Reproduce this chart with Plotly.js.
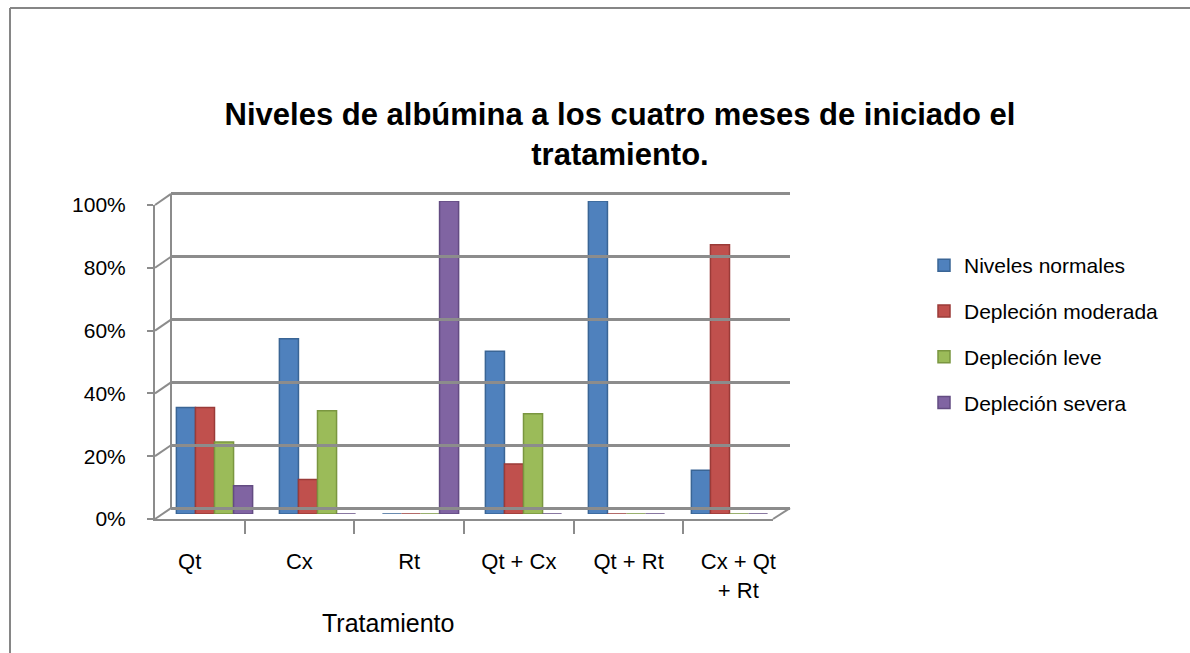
<!DOCTYPE html>
<html>
<head>
<meta charset="utf-8">
<script src="https://cdn.plot.ly/plotly-3.0.1.min.js"></script>
<style>
  html, body { margin: 0; padding: 0; background: #fff; }
  #chart { width: 1190px; height: 653px; }
</style>
</head>
<body>
<div id="chart"></div>
<script>
// ---- data ----
const categories = ["Qt", "Cx", "Rt", "Qt + Cx", "Qt + Rt", "Cx + Qt + Rt"];
const categoryLabels = ["Qt", "Cx", "Rt", "Qt + Cx", "Qt + Rt", "Cx + Qt<br>+ Rt"];
const seriesNames = ["Niveles normales", "Depleción moderada", "Depleción leve", "Depleción severa"];
const nivelesNormales   = [0.34, 0.56, 0.00, 0.52, 1.00, 0.14];
const deplecionModerada = [0.34, 0.11, 0.00, 0.16, 0.00, 0.86];
const deplecionLeve     = [0.23, 0.33, 0.00, 0.32, 0.00, 0.00];
const deplecionSevera   = [0.09, 0.00, 1.00, 0.00, 0.00, 0.00];
const yTickVals = [0, 0.2, 0.4, 0.6, 0.8, 1.0];
const yTickText = ["0%", "20%", "40%", "60%", "80%", "100%"];

// ---- geometry helpers (pixel -> paper) ----
const PL = 150, PR = 795, PT = 190, PB = 525;
const W = PR - PL, H = PB - PT;
const fx = px => (px - PL) / W;
const fy = py => (PB - py) / H;

const colors = ["#4F81BD", "#C0504D", "#9BBB59", "#8064A2"];
const edge = ["#3A6595", "#9A3B38", "#7A9640", "#634C82"];
const values = [nivelesNormales, deplecionModerada, deplecionLeve, deplecionSevera];

const FONT = '"Liberation Sans Narrow", "Liberation Sans", Arial, sans-serif';

const traces = values.map((v, i) => ({
  type: "bar",
  name: seriesNames[i],
  x: categories,
  y: v,
  xaxis: "x",
  yaxis: "y",
  legendgroup: "g" + i,
  marker: { color: colors[i], line: { color: edge[i], width: 1.5 } },
  hoverinfo: "skip"
}));

// dummy traces to anchor the front and back axes
traces.push({
  type: "scatter", mode: "markers", x: categories, y: categories.map(() => null),
  xaxis: "x2", yaxis: "y2", showlegend: false, hoverinfo: "skip"
});
traces.push({
  type: "scatter", mode: "markers", x: categories, y: categories.map(() => null),
  xaxis: "x3", yaxis: "y3", showlegend: false, hoverinfo: "skip"
});

// domains
const xBars = [fx(163), fx(781)];
const yBars = [fy(514), fy(201)];
const xFront = [fx(155), fx(773)];
const yFront = [fy(519), fy(205)];
const xBack = [fx(171), fx(790)];
const yBack = [fy(510), fy(192)];   // slightly padded so edge grid lines are drawn
const backRange = [-0.006, 1.006];

const gridColor = "#8C8C8C";
const shapes = [];
function backY(v) {
  const t = (v - backRange[0]) / (backRange[1] - backRange[0]);
  return yBack[0] + t * (yBack[1] - yBack[0]);
}
// left wall diagonals from front ticks to back grid
yTickVals.forEach(v => {
  const yf = yFront[0] + v * (yFront[1] - yFront[0]);
  shapes.push({ type: "line", xref: "paper", yref: "paper",
    x0: xFront[0], y0: yf, x1: xBack[0], y1: backY(v),
    line: { color: gridColor, width: 2 } });
});
// right floor diagonal
shapes.push({ type: "line", xref: "paper", yref: "paper",
  x0: xFront[1], y0: yFront[0], x1: xBack[1], y1: backY(0),
  line: { color: gridColor, width: 2 } });
// outer chart border (left + top)
shapes.push({ type: "line", xref: "paper", yref: "paper",
  x0: fx(10), y0: fy(8), x1: fx(1192), y1: fy(8), line: { color: "#868686", width: 2 } });
shapes.push({ type: "line", xref: "paper", yref: "paper",
  x0: fx(10), y0: fy(8), x1: fx(10), y1: fy(660), line: { color: "#868686", width: 2 } });

const layout = {
  width: 1190, height: 653,
  margin: { l: PL, r: 1190 - PR, t: PT, b: 653 - PB, pad: 0 },
  paper_bgcolor: "#ffffff", plot_bgcolor: "rgba(0,0,0,0)",
  font: { family: FONT, color: "#000000", size: 20 },
  title: {
    text: "<b>Niveles de albúmina a los cuatro meses de iniciado el<br>tratamiento.</b>",
    font: { family: FONT, size: 31, color: "#000000" },
    xref: "container", yref: "container", x: 0.521, xanchor: "center",
    y: 1 - 125 / 653, yanchor: "top"
  },
  barmode: "group", bargap: 0.26, bargroupgap: 0,
  showlegend: true,
  legend: {
    x: fx(924), xanchor: "left", y: fy(245), yanchor: "top",
    font: { family: FONT, size: 21, color: "#000000" },
    traceorder: "grouped", tracegroupgap: 15.5, itemwidth: 30,
    bgcolor: "rgba(0,0,0,0)"
  },
  xaxis: {
    domain: xBars, anchor: "y", type: "category", categoryarray: categories,
    showticklabels: false, showline: false, showgrid: false, zeroline: false, ticks: ""
  },
  yaxis: {
    domain: yBars, anchor: "x", range: [0, 1], showticklabels: false,
    showline: false, showgrid: false, zeroline: false, ticks: ""
  },
  xaxis2: {
    domain: xFront, anchor: "y2", type: "category", categoryarray: categories,
    tickvals: categories, ticktext: categoryLabels, tickson: "boundaries",
    ticks: "outside", ticklen: 13, tickwidth: 2, tickcolor: gridColor,
    showline: true, linecolor: gridColor, linewidth: 2, showgrid: false, zeroline: false,
    tickfont: { family: FONT, size: 22, color: "#000000" }, ticklabelstandoff: 22
  },
  yaxis2: {
    domain: yFront, anchor: "x2", range: [0, 1],
    tickvals: yTickVals, ticktext: yTickText,
    ticks: "outside", ticklen: 6, tickwidth: 2, tickcolor: gridColor,
    showline: true, linecolor: gridColor, linewidth: 2, showgrid: false, zeroline: false,
    tickfont: { family: FONT, size: 21, color: "#000000" }, ticklabelstandoff: 17
  },
  xaxis3: {
    domain: xBack, anchor: "y3", type: "category", categoryarray: categories,
    showticklabels: false, showline: false, showgrid: false, zeroline: false, ticks: ""
  },
  yaxis3: {
    domain: yBack, anchor: "x3", range: backRange, tickvals: yTickVals,
    showticklabels: false, ticks: "", showgrid: true, gridcolor: gridColor, gridwidth: 3,
    showline: false, zeroline: false
  },
  annotations: [{
    text: "Tratamiento", xref: "paper", yref: "paper",
    x: fx(388), y: fy(623), xanchor: "center", yanchor: "middle",
    showarrow: false, font: { family: FONT, size: 25, color: "#000000" }
  }],
  shapes: shapes.concat([{
    // left wall edge of the back grid
    type: "line", xref: "paper", yref: "paper",
    x0: xBack[0], y0: backY(0), x1: xBack[0], y1: backY(1),
    line: { color: gridColor, width: 2 }
  }])
};

Plotly.newPlot("chart", traces, layout, { staticPlot: true, displayModeBar: false });
</script>
</body>
</html>
